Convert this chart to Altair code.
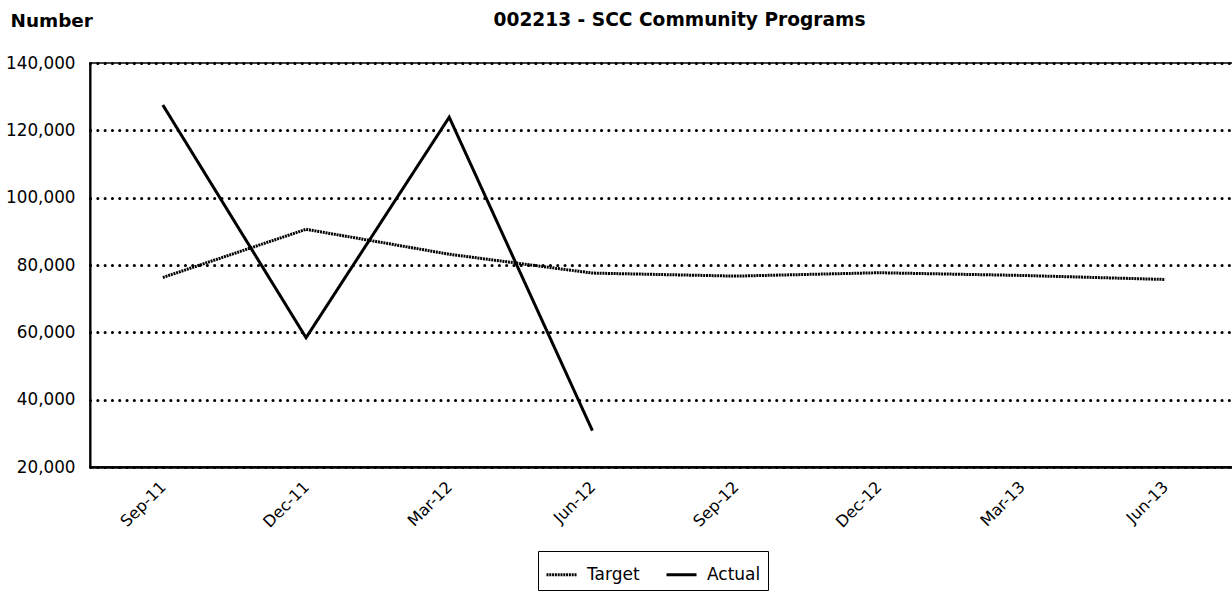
import altair as alt
import pandas as pd

months = ["Sep-11", "Dec-11", "Mar-12", "Jun-12", "Sep-12", "Dec-12", "Mar-13", "Jun-13"]
target = [76300, 90600, 83200, 77600, 76700, 77700, 76900, 75700]
actual = [127500, 58400, 123900, 30800, None, None, None, None]

rows = []
for m, t, a in zip(months, target, actual):
    rows.append({"month": m, "series": "Target", "value": t})
    if a is not None:
        rows.append({"month": m, "series": "Actual", "value": a})
df = pd.DataFrame(rows)

FONT = "DejaVu Sans"

chart = alt.Chart(df).mark_line(strokeWidth=3, color="black").encode(
    x=alt.X(
        "month:N",
        sort=months,
        scale=alt.Scale(type="point", padding=0.509),
        axis=alt.Axis(
            title="002213 - SCC Community Programs",
            titleX=589,
            titleY=-442,
            titleAlign="center",
            titleBaseline="alphabetic",
            titleFont=FONT,
            titleFontSize=18.6,
            titleFontWeight="bold",
            titleColor="black",
            labelAngle=-45,
            labelAlign="right",
            labelBaseline="middle",
            labelPadding=17,
            labelFont=FONT,
            labelFontSize=16,
            labelColor="black",
            ticks=False,
            domainColor="black",
            domainWidth=2.5,
            grid=False,
        ),
    ),
    y=alt.Y(
        "value:Q",
        scale=alt.Scale(domain=[20000, 140000], nice=False, zero=False),
        axis=alt.Axis(
            title="Number",
            titleAngle=0,
            titleX=-80,
            titleY=-37,
            titleAlign="left",
            titleBaseline="alphabetic",
            titleFont=FONT,
            titleFontSize=18.4,
            titleFontWeight="bold",
            titleColor="black",
            values=[20000, 40000, 60000, 80000, 100000, 120000, 140000],
            format=",d",
            labelFont=FONT,
            labelFontSize=16.8,
            labelColor="black",
            labelPadding=15,
            ticks=False,
            domainColor="black",
            domainWidth=2,
            grid=True,
            gridColor="black",
            gridWidth=3,
            gridDash=[0.1, 7.2],
            gridCap="round",
        ),
    ),
    strokeDash=alt.StrokeDash(
        "series:N",
        scale=alt.Scale(domain=["Target", "Actual"], range=[[2, 0.8], [1, 0]]),
        legend=alt.Legend(
            title=None,
            orient="none",
            legendX=448,
            legendY=488,
            direction="horizontal",
            columns=2,
            strokeColor="black",
            fillColor="white",
            padding=7,
            columnPadding=20,
            symbolType="stroke",
            symbolSize=900,
            symbolStrokeWidth=3,
            symbolStrokeColor="black",
            labelFont=FONT,
            labelFontSize=17,
            labelColor="black",
            labelOffset=9,
        ),
    ),
).properties(
    width=1148,
    height=404,
    background="white",
    autosize=alt.AutoSizeParams(type="none"),
    padding={"left": 90, "top": 63, "right": -6, "bottom": 135},
).configure_view(
    stroke="black",
    strokeWidth=1.5,
)

chart.save("out.html", embed_options={"renderer": "svg", "actions": False})
